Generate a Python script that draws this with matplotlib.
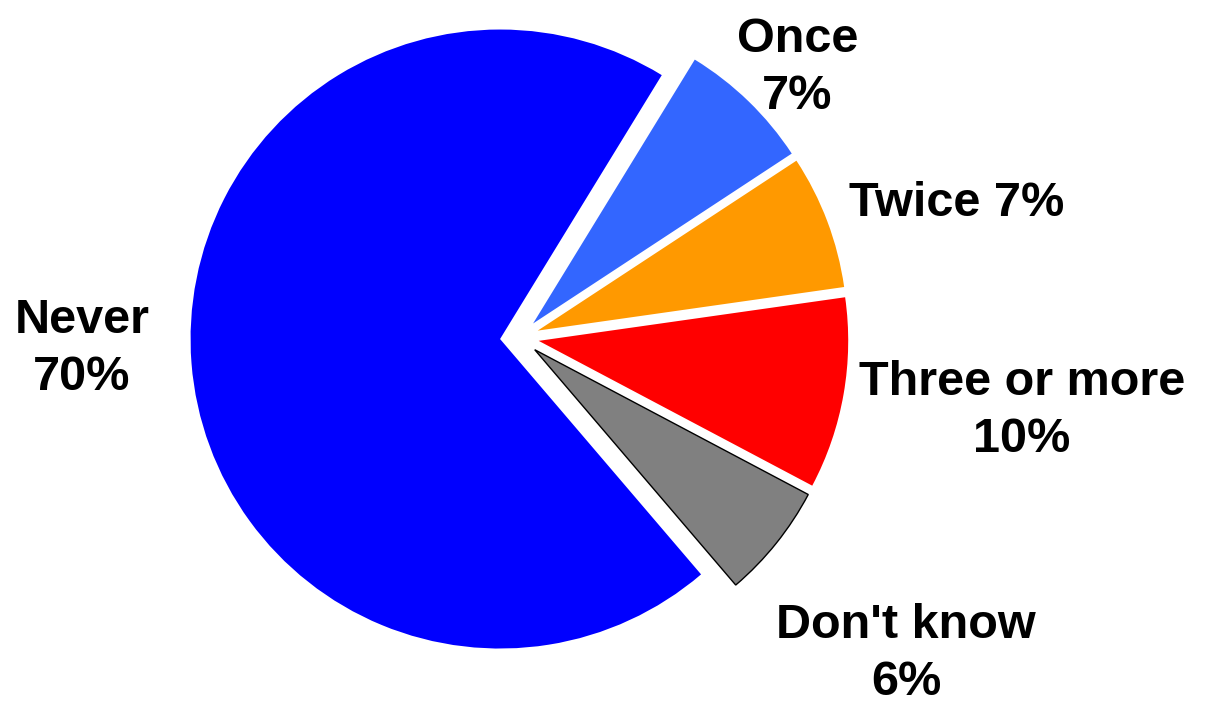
import matplotlib
matplotlib.use("Agg")
import matplotlib.pyplot as plt

# data
categories = ["Never", "Once", "Twice", "Three or more", "Don't know"]
shares = [70, 7, 7, 10, 6]
colors = ["#0000ff", "#3366ff", "#ff9900", "#ff0000", "#808080"]
label_texts = ["Never\n70%", "Once\n7%", "Twice 7%", "Three or more\n10%", "Don't know\n6%"]

# label placement (pie radius = 1)
label_pos = [(-1.4136, -0.036), (0.8982, 0.872), (1.4136, 0.432), (1.6236, -0.237), (1.2488, -1.022)]
explode = [0.063] * 5

plt.rcParams['font.family'] = ['Liberation Sans', 'DejaVu Sans']

fig = plt.figure(figsize=(12.12, 7.03), dpi=100)
ax = fig.add_axes([0, 0, 1, 1])

wedges, texts = ax.pie(shares, labels=label_texts, colors=colors, explode=explode,
                       startangle=-49.5, counterclock=False,
                       wedgeprops=dict(linewidth=0),
                       textprops=dict(fontsize=35, fontweight="bold", color="black"))

# Don't know slice has a thin black outline
wedges[4].set_edgecolor("black")
wedges[4].set_linewidth(1.0)

for t, (x, y) in zip(texts, label_pos):
    t.set_position((x, y))
    t.set_ha("center")
    t.set_va("center")
    t.set_multialignment("center")
    t.set_linespacing(1.34)

cx, cy, r = 519.5, 337.5, 309.5  # pie centre and radius in pixels
ax.set_xlim(-cx / r, (1212 - cx) / r)
ax.set_ylim(-(703 - cy) / r, cy / r)
ax.set_aspect("equal")
ax.axis("off")

fig.savefig("out.png", dpi=100)
